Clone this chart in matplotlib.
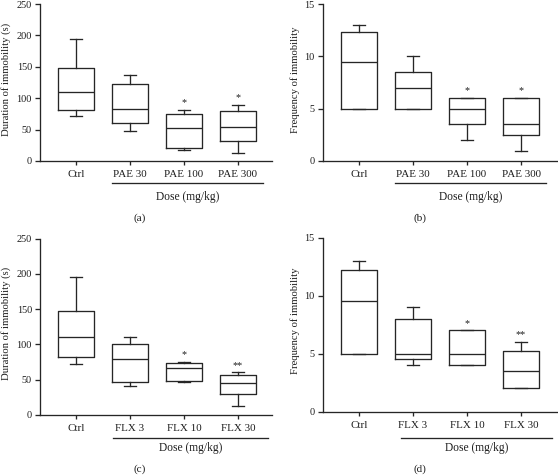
import matplotlib
matplotlib.use('Agg')
import matplotlib.pyplot as plt
import matplotlib.transforms as mtransforms

plt.rcParams['font.family'] = ['Liberation Serif', 'DejaVu Serif']

W, H = 558, 476

# ---------------- data ----------------
pae_labels = ['Ctrl', 'PAE 30', 'PAE 100', 'PAE 300']
flx_labels = ['Ctrl', 'FLX 3', 'FLX 10', 'FLX 30']

# (a) duration of immobility, PAE
dur_pae_min = [72, 47, 18, 12]
dur_pae_q1 = [82, 60, 20, 32]
dur_pae_med = [110, 83, 53, 54]
dur_pae_q3 = [148, 123, 75, 79]
dur_pae_max = [195, 137, 81, 89]
dur_pae_sig = ['', '', '*', '*']

# (b) frequency of immobility, PAE
frq_pae_min = [5, 5, 2, 1]
frq_pae_q1 = [5, 5, 3.5, 2.5]
frq_pae_med = [9.5, 7, 5, 3.5]
frq_pae_q3 = [12.3, 8.5, 6, 6]
frq_pae_max = [13, 10, 6, 6]
frq_pae_sig = ['', '', '*', '*']

# (c) duration of immobility, FLX
dur_flx_min = [72, 41, 47, 13]
dur_flx_q1 = [82, 46, 48, 29]
dur_flx_med = [110, 79, 66, 45]
dur_flx_q3 = [148, 101, 73, 57]
dur_flx_max = [195, 110, 75, 60]
dur_flx_sig = ['', '', '*', '**']

# (d) frequency of immobility, FLX
frq_flx_min = [5, 4, 4, 2]
frq_flx_q1 = [5, 4.5, 4, 2]
frq_flx_med = [9.5, 5, 5, 3.5]
frq_flx_q3 = [12.2, 8, 7, 5.2]
frq_flx_max = [13, 9, 7, 6]
frq_flx_sig = ['', '', '*', '**']

dur_ticks = [0, 50, 100, 150, 200, 250]
frq_ticks = [0, 5, 10, 15]

LC = '#262626'
LW = 0.95
TC = '#1e1e1e'

fig = plt.figure(figsize=(W / 100, H / 100), dpi=100)
fig.patch.set_facecolor('white')


def rect(left, top, right, bottom):
    return [left / W, 1 - bottom / H, (right - left) / W, (bottom - top) / H]


def panel(box, xlim, labels, mn, q1, med, q3, mx, sig, yticks, ylabel,
          ylab_px, line_px, line_x, dose_y, tag, tag_xy):
    ax = fig.add_axes(rect(*box))
    stats = [dict(whislo=a, q1=b, med=c, q3=d, whishi=e, fliers=[])
             for a, b, c, d, e in zip(mn, q1, med, q3, mx)]
    pos = list(range(1, len(labels) + 1))
    lp = dict(color=LC, linewidth=LW)
    ax.bxp(stats, positions=pos, widths=0.68, capwidths=0.24,
           showfliers=False, boxprops=lp, whiskerprops=lp, capprops=lp,
           medianprops=lp)
    ax.set_xlim(*xlim)
    ax.set_ylim(yticks[0], yticks[-1])
    ax.set_yticks(yticks)
    ax.set_xticks(pos)
    ax.set_xticklabels(labels)
    for s in ('top', 'right'):
        ax.spines[s].set_visible(False)
    for s in ('left', 'bottom'):
        ax.spines[s].set_color(LC)
        ax.spines[s].set_linewidth(LW)
    ax.tick_params(axis='y', length=3.5, width=LW, color=LC, pad=2.3,
                   labelsize=7.4, labelcolor=TC)
    ax.tick_params(axis='x', length=3, width=LW, color=LC, pad=3.6,
                   labelsize=7.9, labelcolor=TC)
    ax.set_ylabel(ylabel, fontsize=7.7, color=TC)
    axw = box[2] - box[0]
    ax.yaxis.set_label_coords(-ylab_px / axw, 0.52)
    # significance marks
    for p, m, s in zip(pos, mx, sig):
        if s:
            ax.annotate(s, (p, m), xytext=(0, 2.0), textcoords='offset points',
                        ha='center', va='bottom', fontsize=7.3, color=TC)
    # dose underline
    tr = mtransforms.blended_transform_factory(ax.transData, fig.transFigure)
    ax.plot(line_x, [1 - line_px / H] * 2, transform=tr, color=LC,
            linewidth=LW, clip_on=False)
    ax.text(sum(line_x) / 2, 1 - dose_y / H, 'Dose (mg/kg)', transform=tr,
            ha='center', va='center', fontsize=8.3, color=TC)
    fig.text(tag_xy[0] / W, 1 - tag_xy[1] / H, tag, ha='center', va='center',
             fontsize=8.1, color=TC)
    return ax


panel((40, 4, 272, 161), (0.333, 4.63), pae_labels, dur_pae_min, dur_pae_q1,
      dur_pae_med, dur_pae_q3, dur_pae_max, dur_pae_sig, dur_ticks,
      'Duration of immobility (s)', 29, 183, (1.667, 4.463), 197, '(a)', (140, 218))

panel((322.7, 4, 558, 161), (0.328, 4.685), pae_labels, frq_pae_min, frq_pae_q1,
      frq_pae_med, frq_pae_q3, frq_pae_max, frq_pae_sig, frq_ticks,
      'Frequency of immobility', 23, 183, (1.667, 4.463), 197, '(b)', (420, 218))

panel((40, 238.7, 272, 414.7), (0.333, 4.63), flx_labels, dur_flx_min, dur_flx_q1,
      dur_flx_med, dur_flx_q3, dur_flx_max, dur_flx_sig, dur_ticks,
      'Duration of immobility (s)', 29, 437.7, (1.685, 4.556), 448.5, '(c)', (140, 469))

panel((322.7, 237.7, 558, 411.7), (0.328, 4.685), flx_labels, frq_flx_min, frq_flx_q1,
      frq_flx_med, frq_flx_q3, frq_flx_max, frq_flx_sig, frq_ticks,
      'Frequency of immobility', 23, 437.7, (1.772, 4.57), 448.5, '(d)', (420, 469))

fig.savefig('out.png', dpi=100, facecolor='white')
